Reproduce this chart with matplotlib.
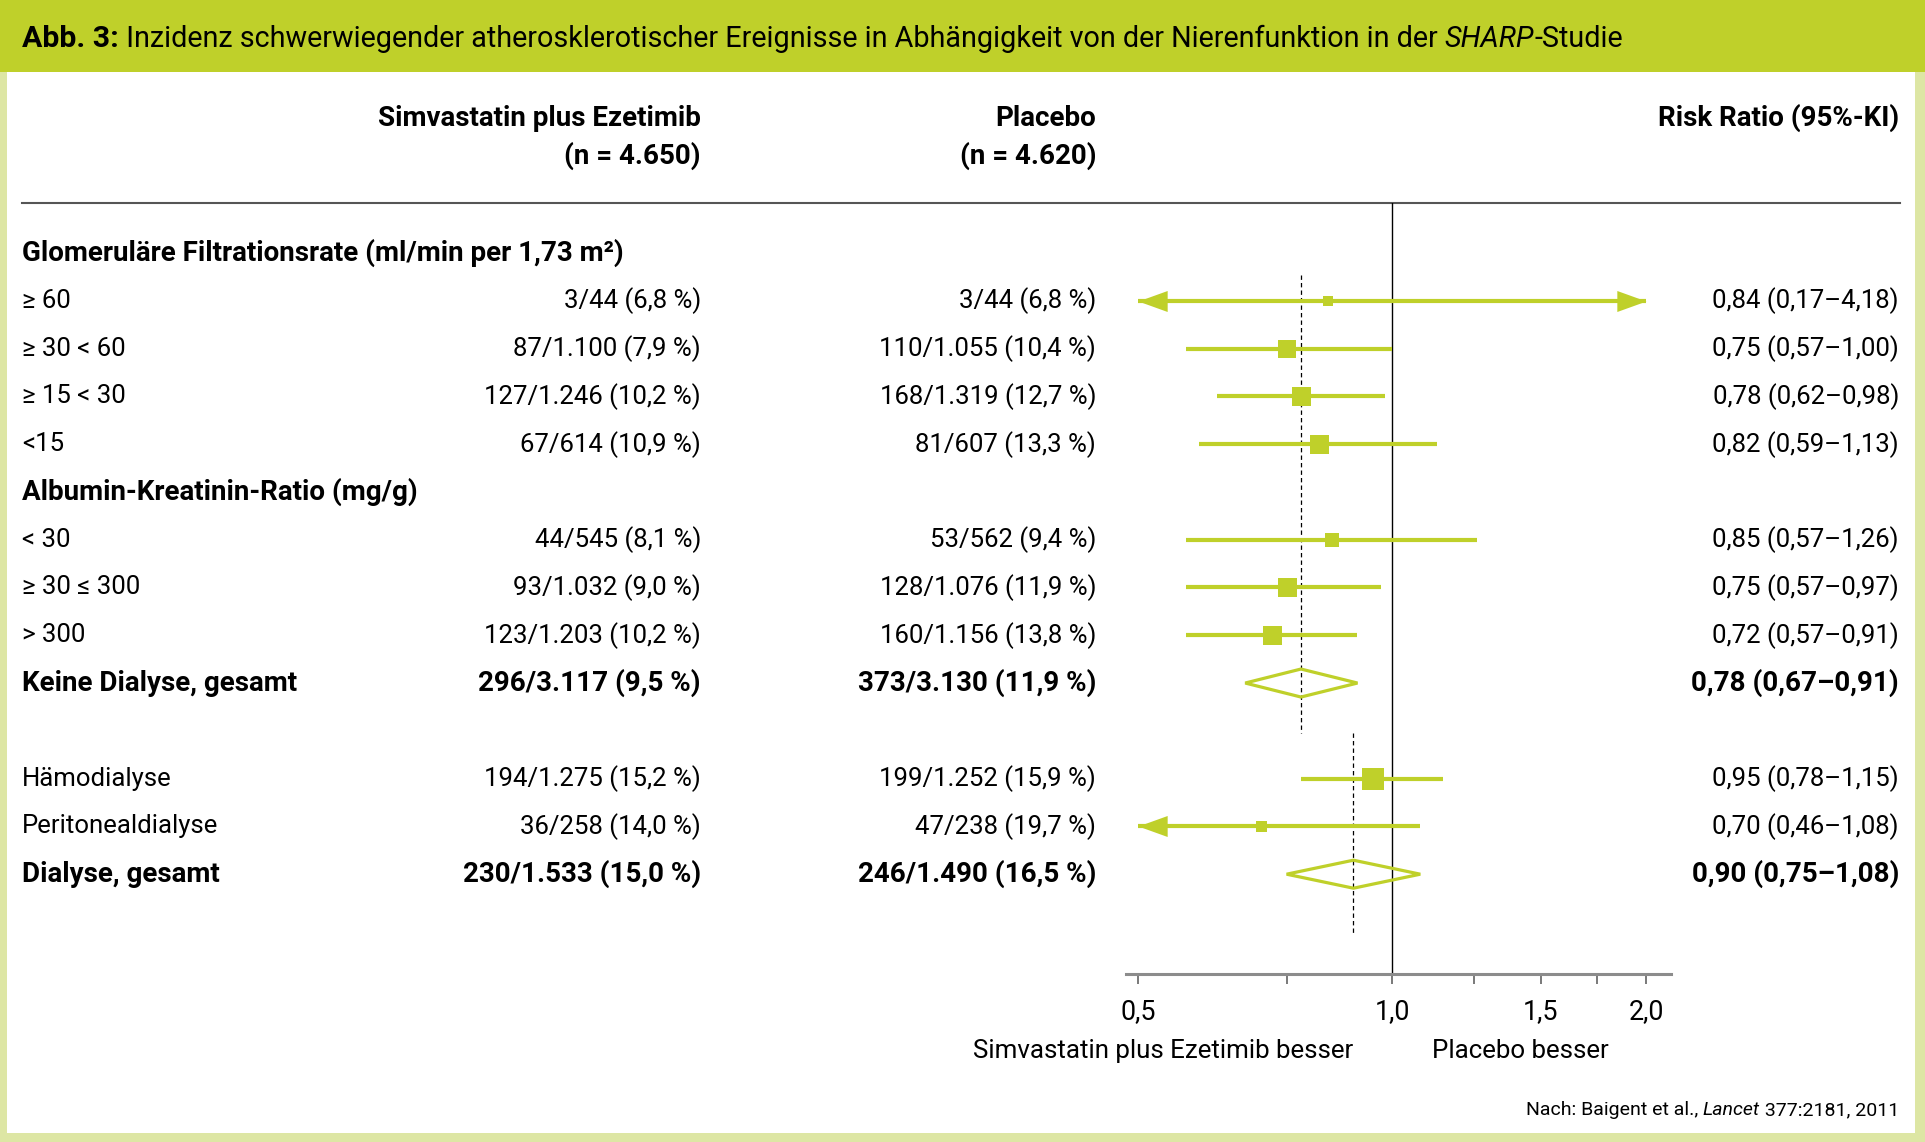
import numpy as np
import matplotlib
matplotlib.use("Agg")
import matplotlib.pyplot as plt
from matplotlib import transforms
from matplotlib.patches import Rectangle, Polygon
from matplotlib.path import Path

# ---- data ----
row_labels = ["Glomeruläre Filtrationsrate (ml/min per 1,73 m²)", "≥ 60", "≥ 30 < 60", "≥ 15 < 30", "<15",
              "Albumin-Kreatinin-Ratio (mg/g)", "< 30", "≥ 30 ≤ 300", "> 300", "Keine Dialyse, gesamt",
              "", "Hämodialyse", "Peritonealdialyse", "Dialyse, gesamt"]
row_bold = [1, 0, 0, 0, 0, 1, 0, 0, 0, 1, 0, 0, 0, 1]
simva = ["", "3/44 (6,8 %)", "87/1.100 (7,9 %)", "127/1.246 (10,2 %)", "67/614 (10,9 %)",
         "", "44/545 (8,1 %)", "93/1.032 (9,0 %)", "123/1.203 (10,2 %)", "296/3.117 (9,5 %)",
         "", "194/1.275 (15,2 %)", "36/258 (14,0 %)", "230/1.533 (15,0 %)"]
placebo = ["", "3/44 (6,8 %)", "110/1.055 (10,4 %)", "168/1.319 (12,7 %)", "81/607 (13,3 %)",
           "", "53/562 (9,4 %)", "128/1.076 (11,9 %)", "160/1.156 (13,8 %)", "373/3.130 (11,9 %)",
           "", "199/1.252 (15,9 %)", "47/238 (19,7 %)", "246/1.490 (16,5 %)"]

# estimates: row index, risk ratio, lower, upper, box weight (0 = diamond for pooled)
est_rows = [1, 2, 3, 4, 6, 7, 8, 9, 11, 12, 13]
rr = [0.84, 0.75, 0.78, 0.82, 0.85, 0.75, 0.72, 0.78, 0.95, 0.70, 0.90]
lo = [0.17, 0.57, 0.62, 0.59, 0.57, 0.57, 0.57, 0.67, 0.78, 0.46, 0.75]
hi = [4.18, 1.00, 0.98, 1.13, 1.26, 0.97, 0.91, 0.91, 1.15, 1.08, 1.08]
weight = [10, 18, 19, 19, 14, 19, 19, 0, 23, 11, 0]

ticks = [0.5, 0.75, 1.0, 1.25, 1.5, 1.75, 2.0]
tick_labels = ["0,5", "", "1,0", "", "1,5", "", "2,0"]

title_bold = "Abb. 3:"
title_rest = " Inzidenz schwerwiegender atherosklerotischer Ereignisse in Abhängigkeit von der Nierenfunktion in der "

GREEN = "#BFD02A"
LIGHT = "#DDE6A4"

plt.rcParams["font.family"] = ["Roboto", "DejaVu Sans"]
FS = 18.5      # regular table text
FSB = 20       # bold table text

W, H = 1925, 1142
fig = plt.figure(figsize=(W / 100, H / 100), dpi=100)
bg = fig.add_axes([0, 0, 1, 1])
bg.set_xlim(0, W)
bg.set_ylim(H, 0)
bg.axis("off")

# frame and header band
bg.add_patch(Rectangle((0, 0), W, H, fc=LIGHT, ec="none"))
bg.add_patch(Rectangle((7, 72), W - 17, H - 72 - 9, fc="white", ec="none"))
bg.add_patch(Rectangle((0, 0), W, 72, fc=GREEN, ec="none"))

t1 = bg.text(22, 39, title_bold, fontsize=21.8, fontweight="bold", va="center", ha="left")
fig.canvas.draw()
r = fig.canvas.get_renderer()
x = t1.get_window_extent(r).x1
t2 = bg.text(x, H - 39, title_rest, fontsize=20.7, va="center", ha="left", transform=None)
x = t2.get_window_extent(r).x1
t3 = bg.text(x, H - 39, "SHARP", fontsize=20.7, style="italic", va="center", ha="left", transform=None)
x = t3.get_window_extent(r).x1
bg.text(x, H - 39, "-Studie", fontsize=20.7, va="center", ha="left", transform=None)

# column headers
bg.text(701, 118, "Simvastatin plus Ezetimib", fontsize=FSB, fontweight="bold", ha="right", va="center")
bg.text(701, 156, "(n = 4.650)", fontsize=FSB, fontweight="bold", ha="right", va="center")
bg.text(1096, 118, "Placebo", fontsize=FSB, fontweight="bold", ha="right", va="center")
bg.text(1096, 156, "(n = 4.620)", fontsize=FSB, fontweight="bold", ha="right", va="center")
bg.text(1899, 118, "Risk Ratio (95%-KI)", fontsize=FSB, fontweight="bold", ha="right", va="center")
bg.plot([22, 1900], [203, 203], color="#555555", lw=1.5)

# forest axes
fax = fig.add_axes([1126 / W, 1 - 973.6 / H, 545 / W, (973.6 - 202.6) / H])
fax.set_xscale("log")
fax.set_xlim(0.484, 2.14)
fax.set_ylim(15.08, -1.053)
fax.patch.set_alpha(0)
for s in ["top", "left", "right"]:
    fax.spines[s].set_visible(False)
fax.spines["bottom"].set_color("#8c8c8c")
fax.spines["bottom"].set_linewidth(2.2)
fax.set_yticks([])
fax.xaxis.set_minor_locator(matplotlib.ticker.NullLocator())
fax.set_xticks(ticks)
fax.set_xticklabels(tick_labels)
fax.tick_params(axis="x", length=7.5, width=1.1, color="#555555", pad=10, labelsize=19.4)

fax.axvline(1.0, color="black", lw=1.0, zorder=1)

xmin_c, xmax_c = 0.5, 2.0
left_head = Path([(0, 0), (1, 0.36), (1, -0.36), (0, 0)], [1, 2, 2, 79])
right_head = Path([(0, 0), (-1, 0.36), (-1, -0.36), (0, 0)], [1, 2, 2, 79])

pooled = []
for y, m, l, h, wgt in zip(est_rows, rr, lo, hi, weight):
    if wgt == 0:
        hh = 14 / 47.78
        fax.add_patch(Polygon([(l, y), (m, y - hh), (h, y), (m, y + hh)], closed=True,
                              fc="none", ec=GREEN, lw=2.3, zorder=3))
        pooled.append(m)
        continue
    a, b = max(l, xmin_c), min(h, xmax_c)
    fax.plot([a, b], [y, y], color=GREEN, lw=3.0, solid_capstyle="butt", zorder=2)
    if l < xmin_c:
        fax.plot([xmin_c], [y], marker=left_head, ms=42, color=GREEN, mew=0, zorder=2)
    if h > xmax_c:
        fax.plot([xmax_c], [y], marker=right_head, ms=42, color=GREEN, mew=0, zorder=2)
    fax.plot([m], [y], marker="s", ms=wgt * 0.72, color=GREEN, mew=0, zorder=3)

# dashed reference lines at the pooled estimates
fax.plot([pooled[0]] * 2, [0.46, 10.05], color="black", lw=0.9, ls=(0, (3.5, 2.5)), zorder=1)
fax.plot([pooled[1]] * 2, [10.05, 14.24], color="black", lw=0.9, ls=(0, (3.5, 2.5)), zorder=1)

# table text
trans = transforms.blended_transform_factory(bg.transData, fax.transData)
for i, (lab, bold, s, p) in enumerate(zip(row_labels, row_bold, simva, placebo)):
    kw = dict(fontsize=FSB, fontweight="bold") if bold else dict(fontsize=FS)
    bg.text(22, i, lab, ha="left", va="center", transform=trans, **kw)
    bg.text(701, i, s, ha="right", va="center", transform=trans, **kw)
    bg.text(1096, i, p, ha="right", va="center", transform=trans, **kw)
for y, m, l, h, wgt in zip(est_rows, rr, lo, hi, weight):
    txt = f"{m:.2f} ({l:.2f}–{h:.2f})".replace(".", ",")
    kw = dict(fontsize=FSB, fontweight="bold") if wgt == 0 else dict(fontsize=FS)
    bg.text(1899, y, txt, ha="right", va="center", transform=trans, **kw)

bg.text(1353, 1051, "Simvastatin plus Ezetimib besser", fontsize=18.6, ha="right", va="center")
bg.text(1520, 1051, "Placebo besser", fontsize=18.6, ha="center", va="center")

# source line
t = bg.text(1899, 1110, " 377:2181, 2011", fontsize=14, ha="right", va="center")
fig.canvas.draw()
x0 = t.get_window_extent(r).x0
t = bg.text(x0, H - 1110, "Lancet", fontsize=14, style="italic", ha="right", va="center", transform=None)
x0 = t.get_window_extent(r).x0
bg.text(x0, H - 1110, "Nach: Baigent et al., ", fontsize=14, ha="right", va="center", transform=None)

fig.savefig("out.png", dpi=100)
